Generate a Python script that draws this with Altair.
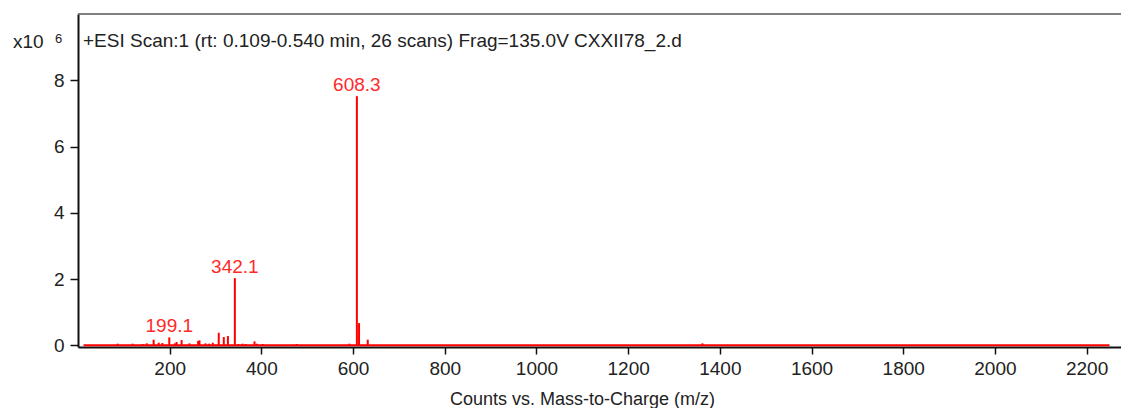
import altair as alt
import pandas as pd

# ---- data (m/z, counts x10^6) ----
mz = [86.6, 119, 141, 150, 165, 176, 184, 199.1, 211, 215, 226, 243, 262, 265, 278,
      286, 294, 307, 318, 327, 342.1, 350, 359, 366, 385, 390, 403, 477, 592,
      608.3, 613, 632, 1362]
intensity = [0.05, 0.05, 0.04, 0.06, 0.17, 0.08, 0.07, 0.24, 0.06, 0.1, 0.16, 0.06,
             0.13, 0.15, 0.06, 0.05, 0.08, 0.38, 0.25, 0.28, 2.03, 0.04, 0.05, 0.04,
             0.12, 0.05, 0.04, 0.04, 0.05, 7.52, 0.67, 0.17, 0.06]
label_mz = [199.1, 342.1, 608.3]
label_int = [0.24, 2.03, 7.52]
label_txt = ["199.1", "342.1", "608.3"]
baseline_start = [12]
baseline_end = [2250]
x_ticks = [200, 400, 600, 800, 1000, 1200, 1400, 1600, 1800, 2000, 2200]
y_ticks = [0, 2, 4, 6, 8]
title_text = "+ESI Scan:1 (rt: 0.109-0.540 min, 26 scans) Frag=135.0V CXXII78_2.d"

FONT = "Liberation Sans"
RED = "#ff0000"
TXT = "#222222"

peaks = pd.DataFrame({"mz": mz, "intensity": intensity})
labels = pd.DataFrame({"mz": label_mz, "intensity": label_int, "txt": label_txt})
base = pd.DataFrame({"x": baseline_start, "x2": baseline_end})
one = pd.DataFrame({"a": [0]})

xscale = alt.Scale(domain=[0, 2275], nice=False, zero=False)
yscale = alt.Scale(domain=[-0.05, 10.0], nice=False, zero=False)

xaxis = alt.Axis(values=x_ticks, format="d", grid=False,
                 title="Counts vs. Mass-to-Charge (m/z)",
                 labelFont=FONT, labelFontSize=19, labelColor=TXT,
                 titleFont=FONT, titleFontSize=18, titleColor=TXT, titleFontWeight="normal",
                 titleX=504, titleY=61, titleBaseline="bottom", titleAlign="center",
                 domainColor="#111111", domainWidth=2, tickColor="#111111",
                 tickSize=7, tickWidth=1.5, labelPadding=5)
yaxis = alt.Axis(values=y_ticks, grid=False, title=None,
                 labelFont=FONT, labelFontSize=19, labelColor=TXT,
                 domainColor="#111111", domainWidth=2, tickColor="#111111",
                 tickSize=8, tickWidth=1.5, labelPadding=6)

baseline = alt.Chart(base).mark_rule(color=RED, strokeWidth=2).encode(
    x=alt.X("x:Q", scale=xscale, axis=xaxis),
    x2="x2:Q",
    y=alt.datum(0, scale=yscale, axis=yaxis),
)

sticks = alt.Chart(peaks).mark_rule(color=RED, strokeWidth=2).encode(
    x=alt.X("mz:Q", scale=xscale),
    y=alt.Y("intensity:Q", scale=yscale),
    y2=alt.datum(0),
)

peak_text = alt.Chart(labels).mark_text(color="#ff2a2a", font=FONT, fontSize=19,
                                        baseline="bottom", dy=-1).encode(
    x=alt.X("mz:Q", scale=xscale),
    y=alt.Y("intensity:Q", scale=yscale),
    text="txt:N",
)

top_border = alt.Chart(one).mark_rule(color="#555555", strokeWidth=1.5).encode(
    y=alt.datum(10.0),
)

title_mark = alt.Chart(one).mark_text(font=FONT, fontSize=19, color=TXT, align="left",
                                      baseline="middle").encode(
    x=alt.value(5), y=alt.value(27), text=alt.value(title_text))

x10_mark = alt.Chart(one).mark_text(font=FONT, fontSize=19, color=TXT, align="left",
                                    baseline="middle").encode(
    x=alt.value(-65), y=alt.value(28), text=alt.value("x10"))
exp_mark = alt.Chart(one).mark_text(font=FONT, fontSize=13, color=TXT, align="left",
                                    baseline="middle").encode(
    x=alt.value(-23), y=alt.value(25), text=alt.value("6"))

chart = alt.layer(baseline, sticks, peak_text, top_border, title_mark, x10_mark, exp_mark).properties(
    width=1043, height=333,
    autosize=alt.AutoSizeParams(type="none"),
    padding={"left": 70, "top": 6, "right": 0, "bottom": 61},
    background="white",
).configure_view(stroke=None)

chart.save("out.html", embed_options={"renderer": "svg", "actions": False})
